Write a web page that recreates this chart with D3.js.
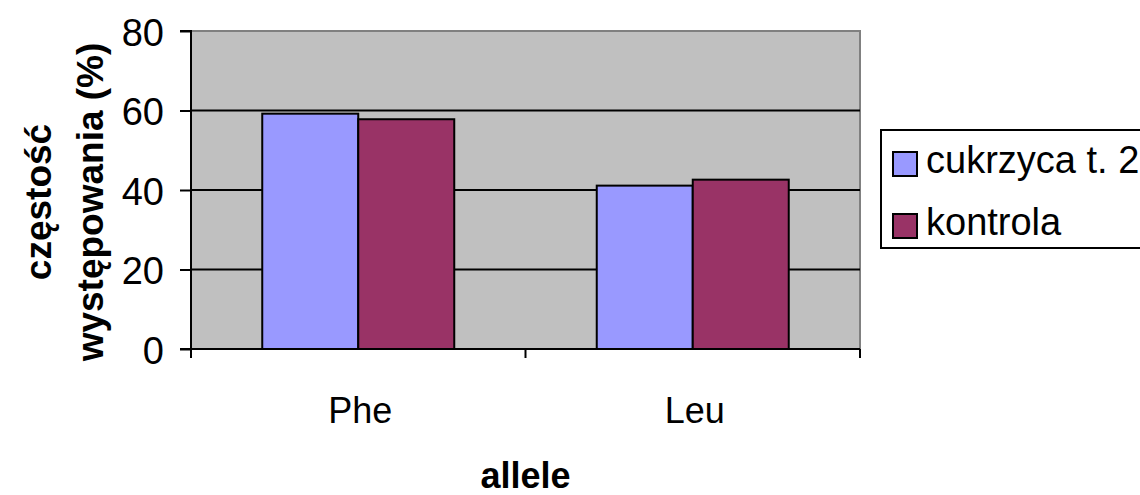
<!DOCTYPE html>
<html>
<head>
<meta charset="utf-8">
<script src="https://cdn.jsdelivr.net/npm/d3@7"></script>
<style>
  html, body { margin: 0; padding: 0; background: #fff; }
  svg { display: block; }
  text { font-family: "Liberation Sans", Arial, sans-serif; fill: #000; }
</style>
</head>
<body>
<svg id="chart" width="1140" height="495"></svg>
<script>
// Allele frequencies (%) in type 2 diabetes patients and controls
const categories = ["Phe", "Leu"];
const seriesNames = ["cukrzyca t. 2", "kontrola"];
const cukrzycaValues = [59.2, 41.1];
const kontrolaValues = [57.8, 42.6];
const yTicks = [0, 20, 40, 60, 80];
const seriesColors = ["#9999FF", "#993366"];

const seriesValues = [cukrzycaValues, kontrolaValues];

const svg = d3.select("#chart");
const plot = { left: 191, right: 860, top: 31, bottom: 349 };

const x = d3.scaleBand()
  .domain(categories)
  .range([plot.left, plot.right])
  .paddingInner(0.426)
  .paddingOuter(0.213);

const xSeries = d3.scaleBand()
  .domain(seriesNames)
  .range([0, x.bandwidth()]);

const y = d3.scaleLinear().domain([0, 80]).range([plot.bottom, plot.top]);

// plot background
svg.append("rect")
  .attr("x", plot.left).attr("y", plot.top)
  .attr("width", plot.right - plot.left).attr("height", plot.bottom - plot.top)
  .attr("fill", "#C0C0C0");

// top and right frame
svg.append("path")
  .attr("d", `M${plot.left},${plot.top}H${plot.right}V${plot.bottom}`)
  .attr("fill", "none").attr("stroke", "#808080").attr("stroke-width", 2);

// horizontal gridlines
svg.append("g")
  .selectAll("line")
  .data(yTicks.filter(t => t > 0 && t < 80))
  .join("line")
  .attr("x1", plot.left).attr("x2", plot.right)
  .attr("y1", d => y(d)).attr("y2", d => y(d))
  .attr("stroke", "#000").attr("stroke-width", 2);

// bars
const groups = svg.append("g")
  .selectAll("g")
  .data(seriesNames)
  .join("g")
  .attr("fill", (d, i) => seriesColors[i]);

groups.selectAll("rect")
  .data((s, si) => categories.map((c, ci) => ({ c, s, v: seriesValues[si][ci] })))
  .join("rect")
  .attr("x", d => x(d.c) + xSeries(d.s))
  .attr("y", d => y(d.v))
  .attr("width", xSeries.bandwidth())
  .attr("height", d => y(0) - y(d.v))
  .attr("stroke", "#000").attr("stroke-width", 2);

// y axis
const yAxis = d3.axisLeft(y).tickValues(yTicks).tickSize(11).tickPadding(16);
const gy = svg.append("g").attr("transform", `translate(${plot.left},0)`).call(yAxis);
gy.select(".domain").attr("stroke", "#000").attr("stroke-width", 2).attr("d", `M-11,${plot.top}H0V${plot.bottom}H-11`);
gy.selectAll(".tick line").attr("stroke", "#000").attr("stroke-width", 2);
gy.selectAll(".tick text")
  .attr("font-size", 38)
  .attr("dy", "0.37em")
  .attr("font-family", "Liberation Sans, Arial, sans-serif")
  .attr("fill", "#000");

// x axis (ticks at the category boundaries)
const boundaries = [plot.left, (plot.left + plot.right) / 2, plot.right];
const gx = svg.append("g");
gx.append("line")
  .attr("x1", plot.left).attr("x2", plot.right)
  .attr("y1", plot.bottom).attr("y2", plot.bottom)
  .attr("stroke", "#000").attr("stroke-width", 2);
gx.selectAll("line.tick")
  .data(boundaries)
  .join("line").attr("class", "tick")
  .attr("x1", d => d).attr("x2", d => d)
  .attr("y1", plot.bottom).attr("y2", plot.bottom + 9)
  .attr("stroke", "#000").attr("stroke-width", 2);
gx.selectAll("text")
  .data(categories)
  .join("text")
  .attr("x", d => x(d) + x.bandwidth() / 2 + 2)
  .attr("y", 423)
  .attr("text-anchor", "middle")
  .attr("font-size", 36)
  .text(d => d);

// axis titles
svg.append("text")
  .attr("x", (plot.left + plot.right) / 2)
  .attr("y", 488)
  .attr("text-anchor", "middle")
  .attr("font-size", 36)
  .attr("font-weight", "bold")
  .text("allele");

const yTitle = svg.append("text")
  .attr("transform", "translate(0,202) rotate(-90)")
  .attr("text-anchor", "middle")
  .attr("font-size", 37)
  .attr("font-weight", "bold");
yTitle.append("tspan").attr("x", 0).attr("y", 51).text("częstość");
yTitle.append("tspan").attr("x", 0).attr("y", 103).text("występowania (%)");

// legend
const legend = svg.append("g");
legend.append("rect")
  .attr("x", 881).attr("y", 130)
  .attr("width", 280).attr("height", 118)
  .attr("fill", "#fff").attr("stroke", "#000").attr("stroke-width", 2);
const items = legend.selectAll("g.item")
  .data(seriesNames)
  .join("g").attr("class", "item")
  .attr("transform", (d, i) => `translate(0,${i * 62})`);
items.append("rect")
  .attr("x", 893).attr("y", 152)
  .attr("width", 24).attr("height", 24)
  .attr("fill", (d, i) => seriesColors[i])
  .attr("stroke", "#000").attr("stroke-width", 2);
items.append("text")
  .attr("x", 926).attr("y", 173)
  .attr("font-size", 38)
  .text(d => d);
</script>
</body>
</html>
